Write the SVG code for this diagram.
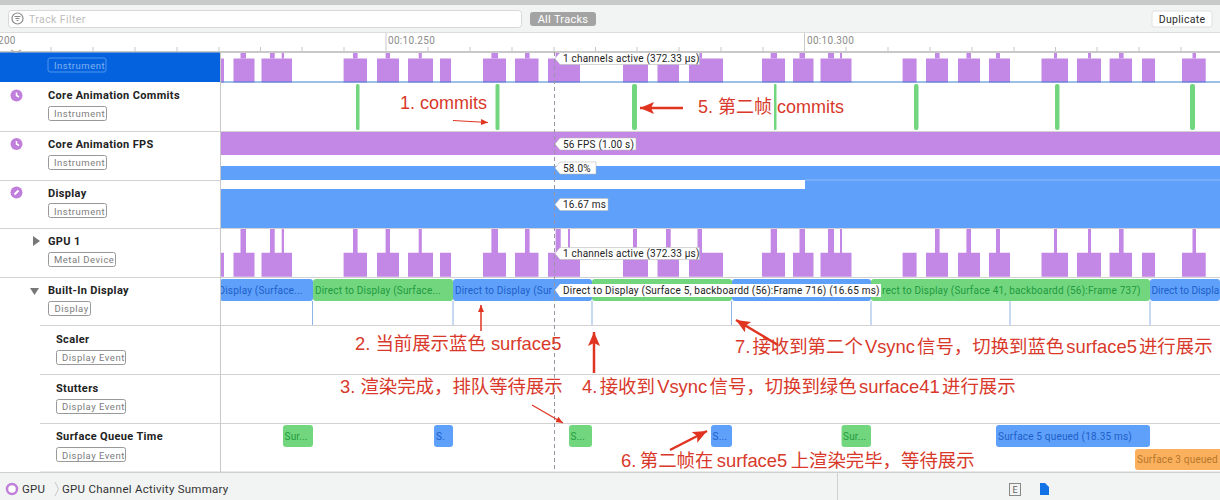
<svg xmlns="http://www.w3.org/2000/svg" width="1220" height="500" viewBox="0 0 1220 500">
<style>
text{font-family:"Roboto","Liberation Sans","Noto Sans CJK SC",sans-serif}
.name{font-size:11px;font-weight:700;fill:#222;letter-spacing:.35px}
.badge{fill:#fff;stroke:#999;stroke-width:1}
.bt{font-size:9.5px;fill:#7d7d7d;letter-spacing:.5px}
.sep{stroke:#d2d2d2;stroke-width:1}
.p{fill:#c387e6}
.b{fill:#5fa0fa}
.g{fill:#72d67e}
.o{fill:#fbb05d}
.tb{font-size:10px;fill:#1d5fc9;letter-spacing:.19px}
.tg{font-size:10px;fill:#209a3e;letter-spacing:.19px}
.to{font-size:10px;fill:#b5772b;letter-spacing:.19px}
.tip{fill:#fff;stroke:#bbb;stroke-width:.6}
.tt{font-size:10px;fill:#222;letter-spacing:.21px}
.tick{stroke:#c9c9c9;stroke-width:1}
.ann{font-family:"Liberation Sans","Noto Sans CJK SC","Noto Sans",sans-serif;font-size:18.4px;fill:#d8392b}
.vs{stroke:#8fb5e6;stroke-width:1}
.cm{fill:#72d67e}
.ar{stroke:#e03421;fill:none}
.rul{font-size:10px;fill:#8b8b8b;letter-spacing:.3px}
</style>
<defs>
<path id="low" class="p" d="M220 0h4v24h-4zM233.500 0h21v24h-21zM261.500 0h30.500v24h-30.500zM343.600 0h23.400v24h-23.400zM377 0h22v24h-22zM408 0h25v24h-25zM440 0h11v24h-11zM483 0h23v24h-23zM515 0h23.500v24h-23.500zM548 0h32v24h-32zM623 0h25v24h-25zM657.500 0h21.500v24h-21.500zM689 0h34v24h-34zM762 0h23v24h-23zM793 0h20.500v24h-20.500zM820.500 0h31v24h-31zM902.600 0h14v24h-14zM926 0h22v24h-22zM958 0h22v24h-22zM989 0h21v24h-21zM1041.500 0h26.500v24h-26.500zM1077 0h24v24h-24zM1109.600 0h22.400v24h-22.400zM1142 0h13v24h-13zM1182 0h23.700v24h-23.700z"/>
<path id="tabs" class="p" d="M240.500 0h5.500v1h-5.500zM270 0h4.700v1h-4.700zM281.700 0h2.300v1h-2.300zM353 0h4.600v1h-4.600zM385.600 0h4.400v1h-4.400zM418.700 0h3.100v1h-3.100zM491.400 0h6.600v1h-6.600zM525 0h4.600v1h-4.600zM555.600 0h5.100v1h-5.100zM568 0h2v1h-2zM633 0h4v1h-4zM666 0h4.700v1h-4.700zM697.500 0h4.500v1h-4.500zM770.700 0h6.300v1h-6.300zM799.500 0h5.500v1h-5.500zM828 0h6v1h-6zM840 0h2v1h-2zM935 0h4.600v1h-4.600zM966.400 0h4.600v1h-4.600zM996 0h4v1h-4zM1054 0h3v1h-3zM1088 0h3v1h-3zM1119 0h4.600v1h-4.600zM1192.500 0h3.500v1h-3.500z"/>
<marker id="hs" markerUnits="userSpaceOnUse" markerWidth="10" markerHeight="8" refX="7" refY="3" orient="auto"><path d="M0 0L7 3L0 6z" fill="#e03421"/></marker>
<marker id="hm" markerUnits="userSpaceOnUse" markerWidth="16" markerHeight="14" refX="14" refY="6" orient="auto"><path d="M0 0L14 6L0 12L3 6z" fill="#e03421"/></marker>
<clipPath id="c1"><rect x="220" y="279" width="92" height="22"/></clipPath>
</defs>
<rect width="1220" height="500" fill="#fff"/>

<g id="toolbar">
<rect width="1220" height="5" fill="#c9c9c9"/>
<rect y="5" width="1220" height="27" fill="#f2f3f3"/>
<rect y="32" width="1220" height="1" fill="#dcdcdc"/>
<rect x="8.500" y="10.500" width="513" height="17" rx="3" fill="#fff" stroke="#d8d8d8"/>
<circle cx="17.500" cy="18.500" r="5.500" fill="none" stroke="#8a8a8a" stroke-width="1.200"/>
<path d="M14.500 16.500h6M15.500 18.500h4M16.500 20.500h2" stroke="#8a8a8a" stroke-width="1"/>
<text x="29" y="22.500" font-size="10.500" fill="#bdbdbd" letter-spacing=".4">Track Filter</text>
<rect x="530" y="12" width="66" height="14" rx="3" fill="#a3a3a3"/>
<text x="563" y="22.800" font-size="11" fill="#fff" text-anchor="middle" letter-spacing=".3">All Tracks</text>
<rect x="1152" y="11" width="60" height="16" rx="2" fill="#fff" stroke="#e0e0e0"/>
<text x="1182" y="23" font-size="10.500" fill="#2a2a2a" text-anchor="middle" letter-spacing=".3">Duplicate</text>
</g>

<g id="ruler">
<text x="-2" y="44" class="rul">200</text>
<text x="388" y="44" class="rul">00:10.250</text>
<text x="807" y="44" class="rul">00:10.300</text>
<path class="tick" d="M386 33V52M804.500 33V52"/>
<path class="tick" d="M51 47V52M93 47V52M135 47V52M177 47V52M219 47V52M260.500 47V52M302 47V52M344 47V52M428 47V52M470 47V52M512 47V52M554 47V52M595.500 47V52M637 47V52M679 47V52M721 47V52M763 47V52M846 47V52M888 47V52M930 47V52M972 47V52M1014 47V52M1055.500 47V52M1097 47V52M1139 47V52M1181 47V52"/>
<rect x="0" y="51" width="1220" height="2" fill="#c8c8c8"/>
</g>

<g id="track-gpu-top">
<rect y="52.500" width="220" height="29.500" fill="#0562df"/>
<path d="M11 50Q16 54 21 50" fill="none" stroke="#b5b5b5" stroke-width="1.500"/>
<rect x="48" y="58" width="58" height="14" rx="2" fill="#0562df" stroke="#4f95ec"/>
<text x="54" y="68.500" class="bt" style="fill:#7fb2f0">Instrument</text>
<use href="#tabs" transform="translate(0 53) scale(1 5.500)"/>
<use href="#low" y="58.500"/>
<rect x="220" y="81.500" width="1000" height="1" fill="#3c7fd0"/>
</g>

<g id="track-commits">
<circle cx="16.500" cy="95.500" r="6" fill="#c07fdb"/><path d="M16.500 92.500v3l2.500 1.500" stroke="#fff" stroke-width="1.500" fill="none"/>
<text x="48" y="99" class="name">Core Animation Commits</text>
<rect x="48.500" y="106.500" width="58" height="14" rx="2" class="badge"/><text x="54" y="117" class="bt">Instrument</text>
<rect x="356" y="84" width="3.500" height="46" rx="1.500" class="cm"/>
<rect x="495.500" y="84" width="4" height="46" rx="1.500" class="cm"/>
<rect x="632" y="84" width="5" height="46" rx="2" class="cm"/>
<rect x="774" y="84" width="2.500" height="46" rx="1" class="cm"/>
<rect x="914" y="84" width="4.500" height="46" rx="2" class="cm"/>
<rect x="1055" y="84" width="4.500" height="46" rx="2" class="cm"/>
<rect x="1190" y="84" width="5" height="46" rx="2" class="cm"/>
<path class="sep" d="M0 131.500H1220"/>
</g>

<g id="track-fps">
<circle cx="16.500" cy="144" r="6" fill="#c07fdb"/><path d="M16.500 141v3l2.500 1.500" stroke="#fff" stroke-width="1.500" fill="none"/>
<text x="48" y="148" class="name">Core Animation FPS</text>
<rect x="48.500" y="155.500" width="58" height="14" rx="2" class="badge"/><text x="54" y="166" class="bt">Instrument</text>
<rect x="220" y="132" width="1000" height="23" class="p"/>
<rect x="220" y="166" width="1000" height="14" class="b"/>
<path class="sep" d="M0 180.500H220"/>
</g>

<g id="track-display">
<circle cx="16.500" cy="192.500" r="6" fill="#c07fdb"/><path d="M14.500 194.500l4-4" stroke="#fff" stroke-width="2" fill="none"/>
<text x="48" y="197" class="name">Display</text>
<rect x="48.500" y="203.500" width="58" height="14" rx="2" class="badge"/><text x="54" y="214.500" class="bt">Instrument</text>
<rect x="220" y="189" width="1000" height="39" class="b"/>
<rect x="805" y="180" width="415" height="9" class="b"/>
<rect x="805" y="179.500" width="415" height="1" fill="#8dbcf8"/>
<path class="sep" d="M0 228.500H1220"/>
</g>

<g id="track-gpu1">
<path d="M33 236l7 5l-7 5z" fill="#777"/>
<text x="48" y="245" class="name">GPU 1</text>
<rect x="48.500" y="252.500" width="67" height="14" rx="2" class="badge"/><text x="54" y="263" class="bt">Metal Device</text>
<use href="#tabs" transform="translate(0 229) scale(1 24)"/>
<use href="#low" y="252.800"/>
<path class="sep" d="M0 277.500H1220"/>
</g>

<g id="track-builtin">
<path d="M30 288h9l-4.500 7z" fill="#777"/>
<text x="48" y="294" class="name">Built-In Display</text>
<rect x="48.500" y="301.500" width="42" height="14" rx="2" class="badge"/><text x="54.500" y="312" class="bt">Display</text>
<rect x="220" y="279" width="93" height="22" rx="3" class="b"/>
<rect x="313" y="279" width="140" height="22" rx="3" class="g"/>
<rect x="453" y="279" width="139" height="22" rx="3" class="b"/>
<rect x="592" y="279" width="140" height="22" rx="3" class="g"/>
<rect x="732" y="279" width="139" height="22" rx="3" class="b"/>
<rect x="871" y="279" width="279" height="22" rx="3" class="g"/>
<rect x="1150" y="279" width="70" height="22" rx="3" class="b"/>
<g clip-path="url(#c1)"><text x="218.500" y="294" class="tb">Display (Surface...</text></g>
<text x="315" y="294" class="tg">Direct to Display (Surface...</text>
<text x="455" y="294" class="tb">Direct to Display (Sur</text>
<text x="882" y="294" class="tg">rect to Display (Surface 41, backboardd (56):Frame 737)</text>
<text x="1151.500" y="294" class="tb" style="letter-spacing:0">Direct to Displa</text>
<path class="vs" d="M312.500 301V325M453 301V325M592 301V325M731.500 301V325M871 301V325M1010 301V325M1150 301V325"/>
<path class="sep" d="M40 325.500H1220"/>
</g>

<g id="track-scaler">
<text x="56" y="343" class="name">Scaler</text>
<rect x="56.500" y="350.500" width="69" height="14" rx="2" class="badge"/><text x="62" y="361" class="bt">Display Event</text>
<path class="sep" d="M40 374.500H1220"/>
</g>

<g id="track-stutters">
<text x="56" y="392" class="name">Stutters</text>
<rect x="56.500" y="399.500" width="69" height="14" rx="2" class="badge"/><text x="62" y="410" class="bt">Display Event</text>
<path class="sep" d="M40 423.500H1220"/>
</g>

<g id="track-queue">
<text x="56" y="440" class="name">Surface Queue Time</text>
<rect x="56.500" y="447.500" width="69" height="14" rx="2" class="badge"/><text x="62" y="458.500" class="bt">Display Event</text>
<rect x="283" y="425" width="30" height="22" rx="3" class="g"/><text x="284.500" y="439.500" class="tg">Sur...</text>
<rect x="434" y="425" width="19" height="22" rx="3" class="b"/><text x="436" y="439.500" class="tb">S.</text>
<rect x="569" y="425" width="23" height="22" rx="3" class="g"/><text x="570.500" y="439.500" class="tg">S...</text>
<rect x="711" y="425" width="21" height="22" rx="3" class="b"/><text x="712.500" y="439.500" class="tb">S...</text>
<rect x="841.500" y="425" width="29.500" height="22" rx="3" class="g"/><text x="843" y="439.500" class="tg">Sur...</text>
<rect x="996" y="425" width="154" height="22" rx="3" class="b"/><text x="998" y="439.500" class="tb">Surface 5 queued (18.35 ms)</text>
<rect x="1135" y="449" width="90" height="21" rx="3" class="o"/><text x="1137" y="463" class="to">Surface 3 queued</text>
<path class="sep" d="M40 472H1220"/>
</g>

<path id="panel-divider" d="M220.500 52V472" stroke="#c8c8c8" stroke-width="1"/>
<path id="playhead" d="M554.500 52V472" stroke="#9a94a6" stroke-width="1" stroke-dasharray="4 3"/>

<g id="tooltips">
<path class="tip" d="M555 58.500l5-6H699.500V64.500H560z"/><text x="563" y="62" class="tt">1 channels active (372.33 µs)</text>
<path class="tip" d="M555 144l5-6H636V150H560z"/><text x="563" y="147.500" class="tt">56 FPS (1.00 s)</text>
<path class="tip" d="M555 168l5-6H596V174H560z"/><text x="563" y="171.500" class="tt">58.0%</text>
<path class="tip" d="M555 204.500l5-6H608V210.500H560z"/><text x="563" y="208" class="tt">16.67 ms</text>
<path class="tip" d="M555 253.500l5-6H699.500V259.500H560z"/><text x="563" y="257" class="tt">1 channels active (372.33 µs)</text>
<path class="tip" d="M555 290l5-6H881V297H560z" style="stroke:none"/><text x="563" y="293.500" class="tt">Direct to Display (Surface 5, backboardd (56):Frame 716) (16.65 ms)</text>
</g>

<g id="connectors">
<line class="ar" x1="453" y1="120.500" x2="488" y2="122.500" stroke-width="1" marker-end="url(#hs)"/>
<line class="ar" x1="683" y1="108" x2="640" y2="108" stroke-width="2.500" marker-end="url(#hm)"/>
<line class="ar" x1="481" y1="331" x2="481" y2="305" stroke-width="1.500" marker-end="url(#hs)"/>
<line class="ar" x1="594" y1="373" x2="594" y2="332" stroke-width="2.500" marker-end="url(#hm)"/>
<line class="ar" x1="778" y1="345" x2="736" y2="320" stroke-width="2.500" marker-end="url(#hm)"/>
<line class="ar" x1="532" y1="405" x2="563" y2="423" stroke-width="1.200" marker-end="url(#hs)"/>
<line class="ar" x1="670" y1="450" x2="707" y2="431" stroke-width="2.500" marker-end="url(#hm)"/>
</g>

<g id="annotations">
<text class="ann" x="400" y="109" style="font-size:18px">1. commits</text>
<text class="ann" x="698" y="113" style="font-size:18px">5. 第二帧 commits</text>
<text class="ann" x="355" y="350">2. 当前展示蓝色 surface5</text>
<text class="ann" x="340" y="393">3. 渲染完成，排队等待展示</text>
<text class="ann" x="582" y="393" style="word-spacing:-2.800px">4. 接收到 Vsync 信号，切换到绿色 surface41 进行展示</text>
<text class="ann" x="735" y="353" style="word-spacing:-3px">7. 接收到第二个 Vsync 信号，切换到蓝色 surface5 进行展示</text>
<text class="ann" x="621" y="467" style="word-spacing:-1.700px">6. 第二帧在 surface5 上渲染完毕，等待展示</text>
</g>

<g id="footer">
<rect y="472" width="1220" height="28" fill="#f2f3f3"/>
<path d="M0 472.500H1220" stroke="#cfcfcf"/>
<path d="M837.500 473V500" stroke="#d0d0d0"/>
<circle cx="12" cy="489" r="5" fill="#fff" stroke="#c07fdb" stroke-width="2.500"/>
<text x="22" y="493" font-size="11.500" fill="#333" letter-spacing=".2">GPU</text>
<path d="M55 482l3.500 7l-3.500 7" fill="none" stroke="#c9c9c9"/>
<text x="62" y="493" font-size="11.500" fill="#333" letter-spacing=".25">GPU Channel Activity Summary</text>
<rect x="1009.500" y="483.500" width="11" height="12" fill="#f2f3f3" stroke="#888"/>
<text x="1015" y="493" font-size="9" fill="#666" text-anchor="middle">E</text>
<path d="M1040 483h5l4 4v8h-9z" fill="#1272e6"/>
</g>
</svg>
